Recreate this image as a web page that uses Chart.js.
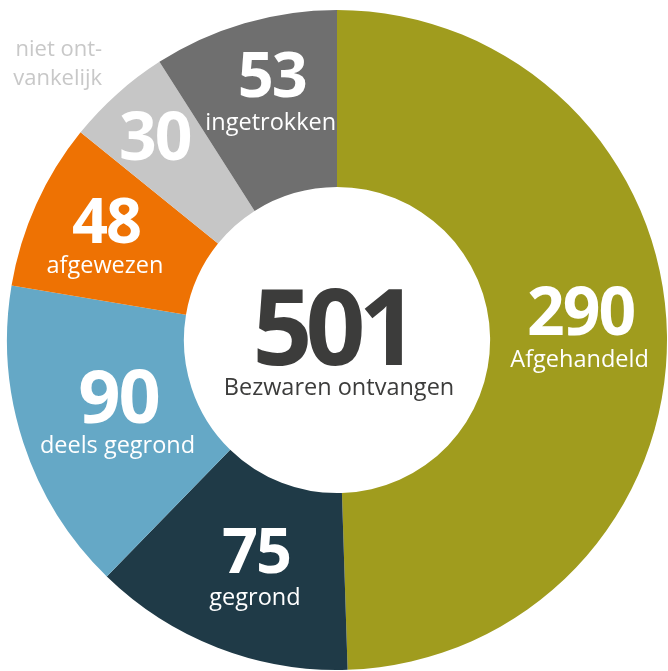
<!DOCTYPE html>
<html>
<head>
<meta charset="utf-8">
<script src="https://cdn.jsdelivr.net/npm/chart.js@4/dist/chart.umd.min.js"></script>
<style>
  html, body { margin: 0; padding: 0; background: #ffffff; }
  #wrap { width: 668px; height: 671px; }
</style>
</head>
<body>
<div id="wrap"><canvas id="c" width="668" height="671"></canvas></div>
<script>
// ---- data ----
const categories = ['Afgehandeld', 'gegrond', 'deels gegrond', 'afgewezen', 'niet ont-\nvankelijk', 'ingetrokken'];
const values = [290, 75, 90, 48, 30, 53];
const outsideLabel = [false, false, false, false, true, false];
const totalValue = 501;
const totalLabel = 'Bezwaren ontvangen';
const colors = ['#A09C1E', '#1F3A47', '#65A8C6', '#EE7203', '#C6C6C6', '#6F6F6F'];

const FONT = '"Open Sans", "Noto Sans", sans-serif';

// label styling (font size of the number, small nudges from the arc centre, gap to caption)
const labelStyle = [
  { size: 66, dx: -1, dy: -1, gap: 32 },
  { size: 63, dx: 6, dy: 6, gap: 32 },
  { size: 74, dx: 12, dy: 7, gap: 30 },
  { size: 63, dx: -10, dy: 3, gap: 30 },
  { size: 66, dx: 0, dy: 2, gap: 0 },
  { size: 63, dx: 2, dy: -9, gap: 33 }
];

const labelPlugin = {
  id: 'segLabels',
  afterDatasetsDraw(chart) {
    const ctx = chart.ctx;
    const meta = chart.getDatasetMeta(0);
    ctx.save();
    meta.data.forEach((arc, i) => {
      const p = arc.getProps(['x', 'y', 'startAngle', 'endAngle', 'innerRadius', 'outerRadius'], true);
      const mid = (p.startAngle + p.endAngle) / 2;
      const cos = Math.cos(mid), sin = Math.sin(mid);
      const st = labelStyle[i];
      ctx.fillStyle = '#ffffff';
      ctx.textAlign = 'center';
      ctx.textBaseline = 'alphabetic';
      if (!outsideLabel[i]) {
        const r = p.innerRadius + (p.outerRadius - p.innerRadius) / 2 + 2;
        const cx = p.x + r * cos + st.dx, cy = p.y + r * sin + st.dy;
        ctx.font = 'bold ' + st.size + 'px ' + FONT;
        ctx.letterSpacing = '-2px';
        ctx.fillText(String(values[i]), cx + 1, cy);
        ctx.letterSpacing = '0px';
        ctx.font = '23.5px ' + FONT;
        ctx.fillText(categories[i], cx, cy + st.gap);
      } else {
        const r = p.innerRadius + (p.outerRadius - p.innerRadius) * 0.69;
        const cx = p.x + r * cos + st.dx, cy = p.y + r * sin + st.dy;
        ctx.font = 'bold ' + st.size + 'px ' + FONT;
        ctx.letterSpacing = '-2px';
        ctx.fillText(String(values[i]), cx + 1, cy + 23);
        ctx.letterSpacing = '0px';
        // category name outside the ring
        const ro = p.outerRadius + 12;
        const ox = p.x + ro * cos - 7, oy = p.y + ro * sin;
        ctx.fillStyle = '#C8C8C8';
        ctx.font = '22px ' + FONT;
        ctx.textAlign = 'right';
        const lines = categories[i].split('\n');
        const lh = 29;
        lines.forEach((ln, k) => {
          ctx.fillText(ln, ox, oy - (lines.length - 1 - k) * lh);
        });
      }
    });
    // center text
    const c = meta.data[0];
    const cx = c.x, cy = c.y;
    ctx.fillStyle = '#3C3C3B';
    ctx.textAlign = 'center';
    ctx.font = 'bold 105px ' + FONT;
    ctx.letterSpacing = '-7px';
    ctx.fillText(String(totalValue), cx - 5, cy + 25);
    ctx.letterSpacing = '0px';
    ctx.font = '23.5px ' + FONT;
    ctx.fillText(totalLabel, cx + 2, cy + 55);
    ctx.restore();
  }
};

new Chart(document.getElementById('c'), {
  type: 'doughnut',
  data: {
    labels: categories,
    datasets: [{
      data: values,
      backgroundColor: colors,
      borderWidth: 0
    }]
  },
  options: {
    responsive: false,
    animation: false,
    cutout: '46.4%',
    layout: { padding: { top: 10, bottom: 1, left: 7, right: 1 } },
    plugins: { legend: { display: false }, tooltip: { enabled: false } }
  },
  plugins: [labelPlugin]
});
</script>
</body>
</html>
